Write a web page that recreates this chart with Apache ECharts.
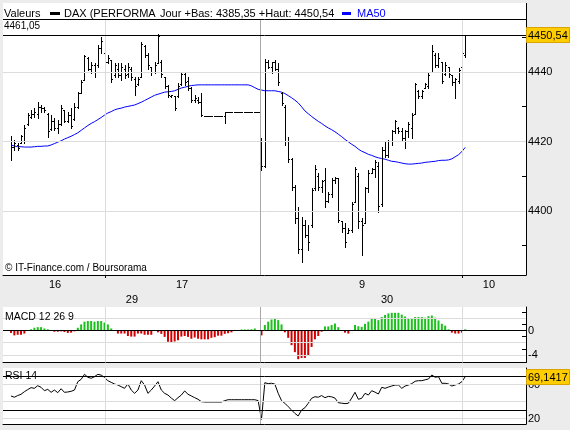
<!DOCTYPE html>
<html><head><meta charset="utf-8">
<script src="https://cdn.jsdelivr.net/npm/echarts@6/dist/echarts.min.js"></script>
<style>html,body{margin:0;padding:0;background:#ececec;}#c{width:570px;height:430px;}</style>
</head><body><div id="c"></div>
<script>
// ---- data (bar index = intraday period; day 2 starts at index 75) ----
const open = [4420,4418.5,4419,4419.5,4420,4425,4427,4428,4428,4430,
4429.5,4428,4423.5,4426,4424,4425,4429,4426,4427.5,4426.5,
4430,4434,4437.8,4444,4441,4442,4442,4447,4445.5,4443,
4443.5,4439,4441,4439,4441,4439.5,4441,4438,4436.5,4438.6,
4447.5,4445,4441.5,4440,4442.5,4443,4438.5,4436,4433,4433,
4433,4436.5,4439.5,4437.5,4435.5,4432,4432,4431.5,4427.3,4427.3,
4427.3,4427.3,4427.3,4427.3,4427.3,4428.6,4428.6,4428.6,4428.6,4428.6,
4428.6,4428.6,4428.6,4428.6,4428.6,4421,4413,4443,4441.5,4443,
4441,4434,4430,4420,4415,4407,4398,4389,4396,4393,
4396,4406.5,4410,4407,4409,4403,4405,4409,4409.5,4397,
4395,4393.8,4394.5,4402.5,4410,4397,4396.5,4406.5,4411,4412,
4413,4402,4417.5,4416,4420,4423,4424,4423,4421,4423,
4424,4428,4434.5,4433,4435.5,4436,4440,4445,4442,4443,
4439.5,4441.5,4439,4437,4437.5,4441.5,4445];
const high = [4421.5,4420.4,4419.5,4421.9,4424.7,4428.1,4429.1,4429.6,4431.5,4430.5,
4430,4428.1,4427.6,4426.7,4426.2,4430.5,4429.1,4428.6,4429.6,4431,
4434.3,4437.7,4444.9,4444.4,4443,4442.5,4447.8,4450.2,4445.8,4444.9,
4443.5,4442.5,4442.5,4442.5,4442,4442.5,4441.5,4438.6,4438.6,4448.7,
4447.8,4445.4,4441.5,4443,4451.05,4443.5,4438.6,4436.3,4433.4,4433,
4436.7,4440.1,4440.1,4438.6,4435.8,4433.4,4432.9,4433.9,4427.3,4427.3,
4427.3,4427.3,4427.3,4427.3,4428.6,4428.6,4428.6,4428.6,4428.6,4428.6,
4428.6,4428.6,4428.6,4428.6,4428.6,4421,4443.7,4443.5,4443,4443.5,
4442.5,4434.3,4430.5,4421.3,4415.3,4407.5,4401.2,4398.3,4397.4,4396,
4406.6,4413.2,4411,4408.9,4412.4,4405.5,4409.5,4409.8,4409.5,4397,
4396.5,4395.1,4402.6,4412.7,4410.9,4398,4406.9,4411.8,4412.4,4414.7,
4414,4418.4,4419.9,4420.4,4423.3,4426.2,4424.3,4423.8,4423.3,4425.7,
4428.1,4436.7,4434.8,4434.8,4436.7,4439.6,4447.8,4445.4,4445.4,4443,
4443,4441.5,4439,4438.2,4441.1,4446.3,4450.54];
const low = [4414.7,4417.6,4417.6,4419.5,4419.5,4424.7,4426.7,4427.1,4426.7,4428.6,
4428.6,4421.4,4423.3,4423.3,4422.4,4424.7,4425.7,4425.7,4423.8,4426.2,
4429.6,4433.9,4437.7,4440.6,4439.6,4438.6,4441.5,4445.4,4442.5,4442.5,
4437.2,4438.6,4438.6,4437.7,4438.2,4438.6,4437.7,4433.4,4436.3,4438.6,
4444.4,4441,4439.1,4439.6,4442.5,4438.6,4435.3,4432.9,4432.9,4429.1,
4432.9,4436.3,4436.3,4434.8,4431.5,4431.5,4431,4427.3,4427.3,4427.3,
4427.3,4427.3,4427.3,4427.3,4425.3,4428.6,4428.6,4428.6,4428.6,4428.6,
4428.6,4428.6,4428.6,4428.6,4428.6,4411.8,4412.7,4441.1,4439.6,4440.6,
4436.3,4430.5,4419,4414.2,4406,4396.5,4387.9,4385.35,4392.5,4388.8,
4395.3,4406,4406,4405.5,4401.2,4402.5,4404,4408,4396.8,4394,
4389.6,4393.7,4394,4402.5,4395.1,4387.3,4396.5,4405.5,4410.9,4409.8,
4399.7,4401.5,4415.5,4415.5,4419,4422.3,4422.3,4420.4,4418,4421.4,
4420.9,4428,4432.4,4432.4,4435.3,4435.3,4440,4441.5,4441.5,4436.7,
4439.1,4438.7,4436.3,4432.4,4436.7,4441.1,4444.4];
const close = [4418.5,4419.5,4418,4421.5,4424,4427.5,4428,4428.5,4430,4429.5,
4429,4423,4426,4424,4425,4429.5,4426,4427.5,4424.5,4430,
4434,4437,4444.5,4441,4442,4440,4447,4449,4443,4444,
4438,4442,4439,4441.5,4439,4441.5,4438.5,4436,4438,4448,
4445,4442,4440,4442,4450.5,4439.5,4436,4433.5,4433.3,4429.5,
4436,4439.5,4437,4435.5,4432,4432.5,4431.5,4427.5,4427.3,4427.3,
4427.3,4427.3,4427.3,4427.3,4428.6,4428.6,4428.6,4428.6,4428.6,4428.6,
4428.6,4428.6,4428.6,4428.6,4428.6,4413,4443,4441.5,4443,4441,
4437,4431,4420,4415,4407,4398,4389,4396,4393,4391,
4406,4412,4407,4408.5,4403,4405,4409,4409.5,4397.5,4395,
4391,4394.5,4402,4412,4397,4396,4406.5,4411,4412,4414,
4401.5,4417.5,4416,4420,4423,4426,4423,4421,4423,4425,
4427.5,4436.5,4433,4434.5,4436.5,4439,4446,4442,4444,4437.5,
4442,4439.5,4437,4438,4440.5,4445.5,4450.54];
const ma50 = [4419.0,4418.7,4418.5,4418.5,4418.4,4418.4,4418.4,4418.5,4418.6,4418.6,
4418.7,4418.7,4419.0,4419.4,4419.8,4420.2,4420.7,4421.1,4421.5,4422.0,
4422.5,4423.2,4423.9,4424.6,4425.2,4425.7,4426.3,4426.9,4427.6,4428.2,
4428.6,4429.1,4429.4,4429.6,4429.9,4430.1,4430.3,4430.5,4430.9,4431.3,
4431.8,4432.3,4432.8,4433.3,4433.6,4433.9,4434.2,4434.3,4434.4,4434.6,
4435.0,4435.4,4435.6,4435.9,4436.1,4436.2,4436.3,4436.3,4436.3,4436.3,
4436.3,4436.3,4436.3,4436.3,4436.3,4436.3,4436.3,4436.3,4436.3,4436.3,
4436.3,4436.3,4436.0,4435.5,4435.0,4434.8,4434.6,4434.6,4434.6,4434.6,
4434.4,4434.2,4433.8,4433.2,4432.6,4431.9,4431.1,4430.0,4428.8,4428.0,
4427.2,4426.5,4425.8,4425.2,4424.5,4423.9,4423.4,4422.8,4422.1,4421.4,
4420.6,4419.9,4419.2,4418.6,4417.8,4417.2,4416.8,4416.3,4416.0,4415.6,
4415.3,4415.1,4414.9,4414.6,4414.3,4414.2,4414.0,4413.8,4413.6,4413.5,
4413.5,4413.6,4413.7,4413.8,4414.0,4414.1,4414.2,4414.3,4414.5,4414.6,
4414.6,4414.7,4415.0,4415.6,4416.2,4417.1,4418.3];
const macdHist = [-0.4,-0.8,-0.7,-0.7,-0.5,0.05,0.2,0.45,0.55,0.55,
0.33,0.2,-0.05,-0.2,-0.2,-0.15,-0.25,-0.4,-0.35,-0.15,
0.45,1.0,1.45,1.55,1.55,1.45,1.55,1.55,1.3,1.0,
0.33,0,-0.5,-0.5,-0.5,-0.9,-1.0,-1.0,-0.5,-0.5,
-0.7,-0.7,-0.7,0,-0.3,-0.55,-1.05,-1.85,-1.9,-1.8,
-1.6,-1.0,-0.9,-1.05,-1.35,-1.15,-1.35,-1.45,-1.45,-1.45,
-1.2,-1.1,-0.85,-0.85,-0.55,-0.45,-0.3,0,0,0.17,
0.17,0.17,0.2,0.33,0,-0.8,0.9,1.45,1.8,2.0,
1.7,1.0,-0.3,-1.2,-2.4,-3.55,-4.7,-4.5,-4.5,-4.1,
-2.7,-1.45,-0.9,-0.2,0.67,0.67,0.9,1.15,0.55,0,
-0.35,-0.5,0,0.9,0.7,0.6,1.1,1.45,1.95,2.05,
1.7,2.2,2.55,2.8,2.9,2.9,2.9,2.6,2.3,2.0,
1.9,2.2,2.2,2.2,2.1,2.35,2.45,2.1,1.65,1.1,
0.8,0.2,-0.35,-0.5,-0.5,-0.35,0.2];
const rsi14 = [46.5,45,47,48.5,51.5,54,56.3,55.5,58.6,56.7,
52.7,54.3,50.8,53.5,50.4,55,50.8,51.2,52,53.5,
63.3,66.1,72,68.5,67.3,69.2,72,71,68.4,64.5,
62.5,60.6,59.4,57.4,55.5,60.6,53.5,49.6,53.5,64.5,
59.4,49.6,53.5,58.2,63.3,53.5,49.6,47.6,44,41,
44.5,47.6,52.4,48.5,46.5,44.5,42.6,39.8,39.4,39.4,
39.4,39.4,39.4,39.4,41,42.1,42.1,42.1,42.1,42.1,
42.1,42.1,42.1,42.1,41,19,62.1,61,61.5,60.5,
49.6,41,37.9,33.9,30,26,23,30,32.7,37.9,
43.8,45.6,45,47,44.5,46,45.5,44,38.6,38,
37.5,37.9,44,50.8,42.6,43.8,49.6,47.6,52.7,51,
48.8,56.7,55.5,57,58.2,59.4,59.4,55.5,58.2,59.4,
61,63.8,64.5,64.5,65.5,66.5,71.2,68.5,69.2,61.4,
61.4,60.6,58.2,59.5,60.6,63.3,69.1417];
const day2Start = 75;
const sessionBreak = 74.55;
const hourTicks = [28.35, 135.1];
const hourLabelAt = [13.2, 51.2, 105.1, 143.1];
const hourLabelText = ['16', '17', '9', '10'];
const dayLabelAt = [36.2, 112.6];
const dayLabelText = ['29', '30'];
const priceTicks = [4390, 4400, 4410, 4420, 4430, 4440, 4450];
const priceLabels = [4400, 4420, 4440];
const priceGrid = [4400, 4420, 4440];
const macdTicks = [3, 2, 1, 0, -1, -2, -3, -4];
const macdLabels = [0, -4];
const macdGrid = [2, -2, -4];
const rsiTicks = [60, 40, 20];
const rsiLabels = [60, 20];
const rsiGrid = [60, 40, 20];
const rsiBands = [70, 30];
const topInfo = '4461,05';

// ---- chart ----
const FONT = "'Liberation Sans', Arial, Helvetica, sans-serif";
const X_MIN = -2.4, X_MAX = 154.2;
const fmt = (v, d) => v.toFixed(d).replace('.', ',');
const dayLow = Math.min(...low.slice(day2Start));
const dayHigh = Math.max(...high.slice(day2Start));
const lastClose = close[close.length - 1];
const lastRsi = rsi14[rsi14.length - 1];

const chart = echarts.init(document.getElementById('c'), null, {renderer: 'canvas'});

function lineMark(items) {
  return {silent: true, symbol: ['none', 'none'], animation: false,
    label: {show: false}, emphasis: {disabled: true}, data: items};
}
const LIGHT = '#dcdcdc', SEP = '#a8a8a8';
function verticals() {
  return hourTicks.map(v => ({xAxis: v, lineStyle: {color: LIGHT, width: 1, type: 'solid'}}))
    .concat([{xAxis: sessionBreak, lineStyle: {color: SEP, width: 1, type: 'solid'}}]);
}
function hLines(vals, color) {
  return vals.map(v => ({yAxis: v, lineStyle: {color: color, width: 1, type: 'solid'}}));
}

function renderOHLC(params, api) {
  const i = api.value(0);
  const pO = api.coord([i, api.value(1)]);
  const pC = api.coord([i, api.value(2)]);
  const pL = api.coord([i, api.value(3)]);
  const pH = api.coord([i, api.value(4)]);
  const px = Math.round(pO[0]);
  const x = px + 0.5;
  const yo = Math.round(pO[1]) + 0.5, yc = Math.round(pC[1]) + 0.5;
  const yh = Math.round(pH[1]), yl = Math.round(pL[1]) + 1;
  const st = {stroke: '#000', lineWidth: 1};
  return {type: 'group', children: [
    {type: 'line', shape: {x1: x, y1: yh, x2: x, y2: yl}, style: st},
    {type: 'line', shape: {x1: px - 1, y1: yo, x2: px + 1, y2: yo}, style: st},
    {type: 'line', shape: {x1: px, y1: yc, x2: px + 2, y2: yc}, style: st}
  ]};
}

const xBase = {type: 'value', min: X_MIN, max: X_MAX, splitLine: {show: false}};
const axisTxt = {color: '#000', fontSize: 11, fontFamily: FONT};
const blackLine = {show: true, onZero: false, lineStyle: {color: '#000', width: 1}};

const option = {
  animation: false,
  backgroundColor: '#ececec',
  textStyle: {fontFamily: FONT},
  grid: [
    {left: 3, top: 19, width: 523, height: 256, show: true, backgroundColor: '#fff', borderWidth: 0},
    {left: 3, top: 307, width: 523, height: 55.5, show: true, backgroundColor: '#fff', borderWidth: 0},
    {left: 3, top: 368, width: 523, height: 56, show: true, backgroundColor: '#fff', borderWidth: 0}
  ],
  xAxis: [
    Object.assign({}, xBase, {gridIndex: 0, position: 'bottom', axisLine: blackLine,
      axisTick: {show: true, customValues: hourTicks, length: 3, lineStyle: {color: '#000'}},
      axisLabel: Object.assign({show: true, customValues: hourLabelAt, margin: 4,
        formatter: v => hourLabelText[hourLabelAt.indexOf(v)] || ''}, axisTxt)}),
    Object.assign({}, xBase, {gridIndex: 0, position: 'bottom', offset: 15,
      axisLine: {show: false, onZero: false}, axisTick: {show: false},
      axisLabel: Object.assign({show: true, customValues: dayLabelAt, margin: 4,
        formatter: v => dayLabelText[dayLabelAt.indexOf(v)] || ''}, axisTxt)}),
    Object.assign({}, xBase, {gridIndex: 1, position: 'bottom', axisLine: blackLine,
      axisTick: {show: false}, axisLabel: {show: false}}),
    Object.assign({}, xBase, {gridIndex: 2, position: 'bottom', axisLine: blackLine,
      axisTick: {show: false}, axisLabel: {show: false}})
  ],
  yAxis: [
    {gridIndex: 0, type: 'value', position: 'right', min: 4381.58, max: 4455.25, axisLine: blackLine,
      axisTick: {show: true, inside: true, length: 4, customValues: priceTicks, lineStyle: {color: '#000'}},
      axisLabel: Object.assign({customValues: priceLabels, margin: 2, formatter: v => String(v)}, axisTxt),
      splitLine: {show: false}},
    {gridIndex: 1, type: 'value', position: 'right', min: -5.246, max: 3.852, axisLine: blackLine,
      axisTick: {show: true, inside: true, length: 4, customValues: macdTicks, lineStyle: {color: '#000'}},
      axisLabel: Object.assign({customValues: macdLabels, margin: 2, formatter: v => String(v)}, axisTxt),
      splitLine: {show: false}},
    {gridIndex: 2, type: 'value', position: 'right', min: 13.53, max: 79.41, axisLine: blackLine,
      axisTick: {show: true, inside: true, length: 4, customValues: rsiTicks, lineStyle: {color: '#000'}},
      axisLabel: Object.assign({customValues: rsiLabels, margin: 2, formatter: v => String(v)}, axisTxt),
      splitLine: {show: false}}
  ],
  series: [
    {type: 'line', name: 'grid0', xAxisIndex: 0, yAxisIndex: 0, data: [], z: 1, silent: true,
      markLine: lineMark(hLines(priceGrid, LIGHT).concat(verticals()))},
    {type: 'line', name: 'MA50', xAxisIndex: 0, yAxisIndex: 0, z: 3, silent: true,
      data: ma50.map((v, i) => [i, v]), showSymbol: false, symbol: 'none',
      lineStyle: {color: '#0000ff', width: 1}, itemStyle: {color: '#0000ff'},
      markLine: lineMark(hLines([lastClose], '#000'))},
    {type: 'custom', name: 'DAX', xAxisIndex: 0, yAxisIndex: 0, z: 4, silent: true,
      data: open.map((o, i) => [i, o, close[i], low[i], high[i]]),
      encode: {x: 0, y: [1, 2, 3, 4]}, renderItem: renderOHLC},
    {type: 'line', name: 'grid1', xAxisIndex: 2, yAxisIndex: 1, data: [], z: 1, silent: true,
      markLine: lineMark(hLines(macdGrid, LIGHT).concat(verticals()).concat(hLines([0], '#000')))},
    {type: 'bar', name: 'MACD', xAxisIndex: 2, yAxisIndex: 1, z: 3, silent: true, barWidth: 2,
      data: macdHist.map((v, i) => [i, v]),
      itemStyle: {color: p => (p.value[1] >= 0 ? '#1cc01c' : '#d00000')}},
    {type: 'line', name: 'grid2', xAxisIndex: 3, yAxisIndex: 2, data: [], z: 1, silent: true,
      markLine: lineMark(hLines(rsiGrid, LIGHT).concat(verticals()).concat(hLines(rsiBands, '#000')))},
    {type: 'line', name: 'RSI', xAxisIndex: 3, yAxisIndex: 2, z: 3, silent: true,
      data: rsi14.map((v, i) => [i, v]), showSymbol: false, symbol: 'none',
      lineStyle: {color: '#000', width: 1}}
  ]
};
chart.setOption(option);

const yLast = chart.convertToPixel({yAxisIndex: 0}, lastClose);
const yRsi = chart.convertToPixel({yAxisIndex: 2}, lastRsi);
const txt = (id, x, y, text, size, color) => ({id: id, type: 'text', x: x, y: y, z: 100,
  style: {text: text, fill: color || '#000', font: size + 'px ' + FONT, verticalAlign: 'middle', align: 'left'}});
const tag = (id, y, text) => ({id: id, type: 'group', z: 100, children: [
  {type: 'rect', shape: {x: 526.5, y: Math.round(y) - 7.5, width: 43, height: 15},
    style: {fill: '#ffcc00', stroke: '#d9a400', lineWidth: 1}, z: 100},
  {type: 'text', x: 528, y: Math.round(y) + 0.5, z: 101,
    style: {text: text, fill: '#000', font: '11px ' + FONT, verticalAlign: 'middle', align: 'left'}}
]});

chart.setOption({graphic: [
  {id: 'hdr', type: 'rect', shape: {x: 3, y: 3, width: 523, height: 16}, style: {fill: '#fff'}, z: 0},
  {id: 'hdrLine', type: 'line', shape: {x1: 3, y1: 19.5, x2: 526, y2: 19.5}, style: {stroke: '#000', lineWidth: 1}, z: 50},
  {id: 'hdrRight', type: 'line', shape: {x1: 526.5, y1: 3, x2: 526.5, y2: 20}, style: {stroke: '#000', lineWidth: 1}, z: 50},
  txt('t1', 4, 13.5, 'Valeurs', 11),
  {id: 'sym1', type: 'rect', shape: {x: 50, y: 12, width: 10, height: 3}, style: {fill: '#000'}, z: 100},
  txt('t2', 64, 13.5, 'DAX (PERFORMA', 11),
  txt('t3', 160, 13.5, 'Jour +Bas: ' + fmt(dayLow, 2) + ' +Haut: ' + fmt(dayHigh, 2), 11),
  {id: 'sym2', type: 'rect', shape: {x: 342, y: 12, width: 9, height: 3}, style: {fill: '#0000ff'}, z: 100},
  txt('t4', 357, 13.5, 'MA50', 11, '#0000ff'),
  txt('t5', 4, 26, topInfo, 10),
  txt('t6', 5, 268.5, '\u00A9 IT-Finance.com / Boursorama', 10),
  txt('t7', 5, 317.5, 'MACD 12 26 9', 10.5),
  txt('t8', 5, 376.5, 'RSI 14', 10.5),
  tag('tag1', yLast, fmt(lastClose, 2)),
  tag('tag2', yRsi, fmt(lastRsi, 4))
]});
</script></body></html>
